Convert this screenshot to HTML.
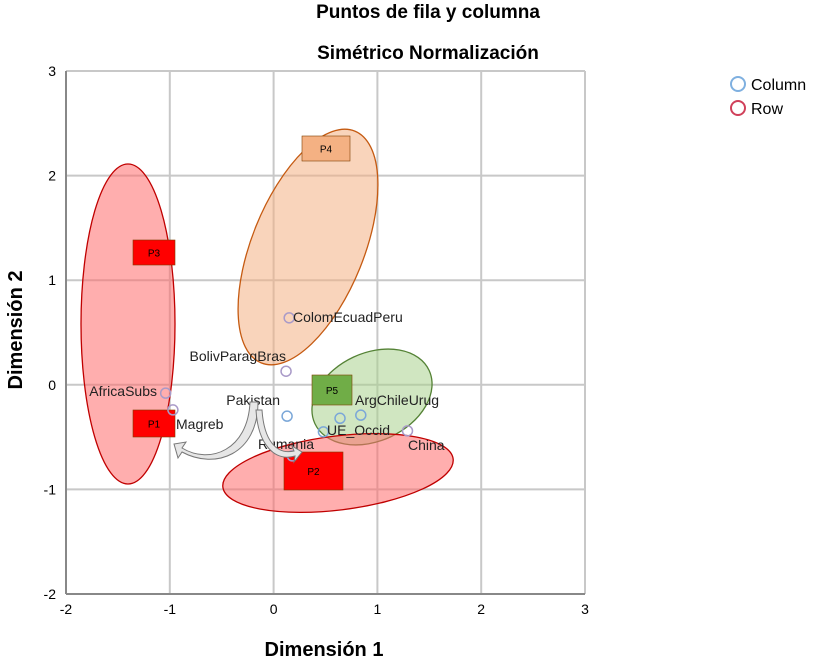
<!DOCTYPE html>
<html><head><meta charset="utf-8"><style>
body{margin:0;background:#fff;width:816px;height:664px;overflow:hidden;font-family:"Liberation Sans",sans-serif}
svg text{font-family:"Liberation Sans",sans-serif}
</style></head><body>
<svg id="chart" width="816" height="664">
<text x="428" y="18" text-anchor="middle" font-size="19" font-weight="bold">Puntos de fila y columna</text>
<text x="428" y="59" text-anchor="middle" font-size="19" font-weight="bold">Simétrico Normalización</text>
<g id="grid"></g>
<g id="shapes"></g>
<g id="marks"></g>
<text x="324" y="656" text-anchor="middle" font-size="20" font-weight="bold">Dimensión 1</text>
<text transform="translate(22,330) rotate(-90)" text-anchor="middle" font-size="20" font-weight="bold">Dimensión 2</text>
<g>
<circle cx="738" cy="84" r="7" fill="none" stroke="#7fb0e0" stroke-width="2"/>
<text x="751" y="90" font-size="16">Column</text>
<circle cx="738" cy="108" r="7" fill="none" stroke="#d0405a" stroke-width="2"/>
<text x="751" y="114" font-size="16">Row</text>
</g>
</svg>
<script>
const xTicks=[-2,-1,0,1,2,3];
const yTicks=[-2,-1,0,1,2,3];
const pointLabels=["ColomEcuadPeru","BolivParagBras","AfricaSubs","Magreb","Pakistan","ArgChileUrug","","UE_Occid","China","Rumania"];
const pointX=[0.15,0.12,-1.04,-0.97,0.13,0.64,0.84,0.48,1.29,0.18];
const pointY=[0.64,0.13,-0.08,-0.24,-0.30,-0.32,-0.29,-0.45,-0.44,-0.68];
const pointType=["row","row","row","row","col","col","col","col","row","row"];
const NS="http://www.w3.org/2000/svg";
const X0=66,X1=585,Y0=594,Y1=71;
function sx(v){return X0+(v+2)/5*(X1-X0);}
function sy(v){return Y0-(v+2)/5*(Y0-Y1);}
function mk(tag,attrs,parent){const e=document.createElementNS(NS,tag);for(const k in attrs)e.setAttribute(k,attrs[k]);parent.appendChild(e);return e;}
const grid=document.getElementById('grid');
xTicks.forEach(t=>{
 const l=mk('line',{x1:sx(t),x2:sx(t),y1:Y1,y2:Y0,stroke:'#c8c8c8','stroke-width':2},grid);
 
 
 const tx=mk('text',{x:sx(t),y:Y0+20,'text-anchor':'middle','font-size':14},grid);tx.textContent=t;
 
 
});
yTicks.forEach(t=>{
 const l=mk('line',{x1:X0,x2:X1,y1:sy(t),y2:sy(t),stroke:'#c8c8c8','stroke-width':2},grid);
 
 
 const tx=mk('text',{x:X0-10,y:sy(t)+5,'text-anchor':'end','font-size':14},grid);tx.textContent=t;
 
 
});
mk('line',{x1:X0,x2:X0,y1:Y1,y2:Y0,stroke:'#888','stroke-width':2},grid);
mk('line',{x1:X0,x2:X1,y1:Y0,y2:Y0,stroke:'#888','stroke-width':2},grid);
const sh=document.getElementById('shapes');
function ell(cx,cy,rx,ry,rot,fill,stroke,name){
 const e=mk('ellipse',{cx:cx,cy:cy,rx:rx,ry:ry,transform:`rotate(${rot} ${cx} ${cy})`,fill:fill,'fill-opacity':0.55,stroke:stroke,'stroke-width':1.3},sh);
 
 
}
ell(128,324,47,160,0,'#ff6b6b','#c00000','ellipse-p3');
ell(308,247,125,56,-68,'#f4b183','#c55a11','ellipse-p4');
ell(372,397,63,44,-25,'#a9d18e','#548235','ellipse-p5');
ell(338,473,116,37,-7,'#ff6b6b','#c00000','ellipse-p2');
function box(x,y,w,h,fill,label,name){
 const r=mk('rect',{x:x,y:y,width:w,height:h,fill:fill,stroke:'#7f3f00','stroke-width':0.6},sh);
 
 
 const t=mk('text',{x:x+w/2,y:y+h/2+4,'text-anchor':'middle','font-size':10},sh);t.textContent=label;
}
box(302,136,48,25,'#f4b183','P4','box-p4');
box(133,240,42,25,'#ff0000','P3','box-p3');
box(133,410,42,27,'#ff0000','P1','box-p1');
box(312,375,40,30,'#70ad47','P5','box-p5');
const m=document.getElementById('marks');
pointX.forEach((v,i)=>{
 const c=mk('circle',{cx:sx(v),cy:sy(pointY[i]),r:5,fill:'none',stroke:pointType[i]=='col'?'#7ba7d8':'#a99ac8','stroke-width':1.5},m);
 
 
});
const lp=[[293,322,'start'],[286,361,'end'],[157,396,'end'],[176,429,'start'],[280,405,'end'],[355,405,'start'],[0,0,'start'],[327,435,'start'],[408,450,'start'],[258,449,'start']];
pointLabels.forEach((s,i)=>{ if(!s)return;
 const t=mk('text',{x:lp[i][0],y:lp[i][1],'text-anchor':lp[i][2],'font-size':14,fill:'#222'},m);t.textContent=s;
 
 
});
box(284,452,59,38,'#ff0000','P2','box-p2');
const a1=mk('path',{d:'M250,402 C248,450 210,465 182,448 L186,442 L174,444 L178,458 L182,452 C215,470 258,455 258,402 Z',fill:'#e6e6e6',stroke:'#777','stroke-width':1},m);

const a2=mk('path',{d:'M256,410 C258,445 275,462 295,456 L294,462 L302,452 L292,446 L294,451 C276,455 264,440 262,410 Z',fill:'#e6e6e6',stroke:'#777','stroke-width':1},m);

</script>
</body></html>
